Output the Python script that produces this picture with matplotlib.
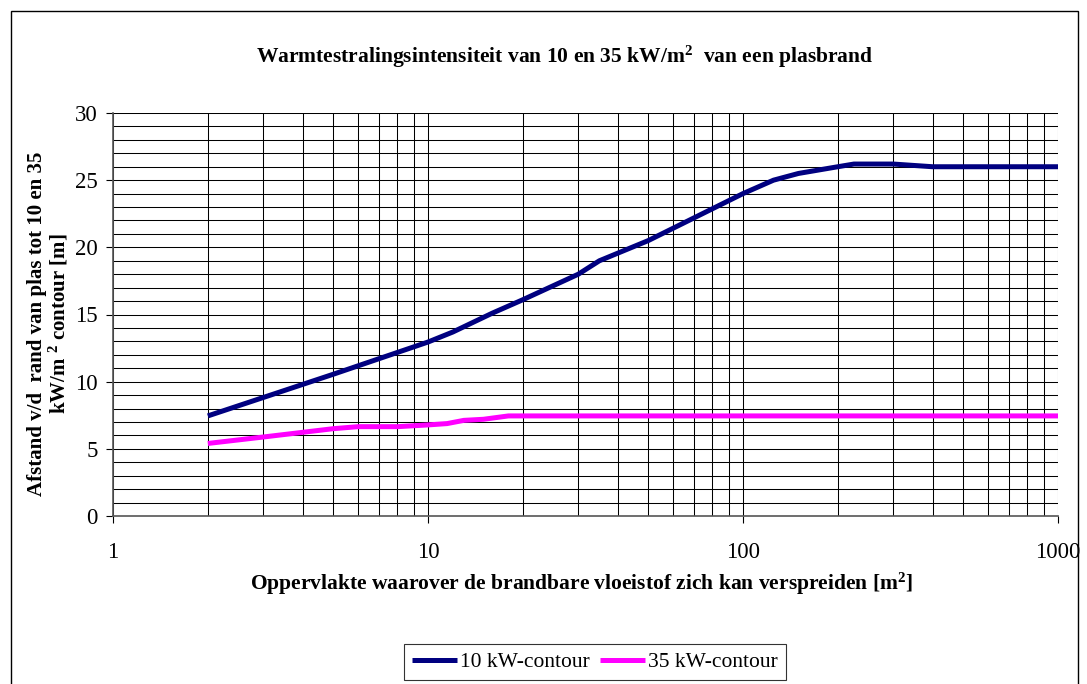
import matplotlib
matplotlib.use("Agg")
import matplotlib.pyplot as plt
from matplotlib.patches import Rectangle
from matplotlib.ticker import LogLocator, FixedLocator, NullFormatter

# area of the pool fire [m2] and distance to the 10 / 35 kW/m2 contour [m]
area_10 = [2, 5, 10, 12, 16, 20, 30, 35, 50, 70, 100, 125, 150, 200, 225, 300, 400, 1000]
dist_10 = [7.45, 10.55, 12.95, 13.7, 15.1, 16.1, 18.0, 19.0, 20.5, 22.2, 24.0, 25.0, 25.5, 26.0,
           26.2, 26.2, 26.0, 26.0]
area_35 = [2, 3, 5, 6, 8, 10, 11.5, 13, 15, 18, 1000]
dist_35 = [5.4, 5.88, 6.5, 6.65, 6.65, 6.78, 6.88, 7.12, 7.2, 7.45, 7.45]
labels = ["10 kW-contour", "35 kW-contour"]
xticks = [1, 10, 100, 1000]
yticks = [0, 5, 10, 15, 20, 25, 30]

plt.rcParams["font.family"] = ["Liberation Serif", "DejaVu Serif"]
plt.rcParams["mathtext.fontset"] = "custom"
plt.rcParams["mathtext.bf"] = "Liberation Serif:bold"
plt.rcParams["mathtext.rm"] = "Liberation Serif"
plt.rcParams["mathtext.it"] = "Liberation Serif:italic"

fig = plt.figure(figsize=(10.87, 6.84), dpi=100)
fig.patches.append(Rectangle((11 / 1087, -0.05), (1078 - 11) / 1087, 1.05 - 11 / 684,
                             transform=fig.transFigure, fill=False, edgecolor="black",
                             linewidth=1.0))

ax = fig.add_axes([113 / 1087, 1 - 516 / 684, (1058 - 113) / 1087, (516 - 113) / 684])
ax.set_xscale("log")
ax.set_xlim(1, 1000)
ax.set_ylim(0, 30)

# grid: every unit on y, every log minor step on x
for yv in range(1, 31):
    ax.axhline(yv, color="black", lw=0.75, zorder=1)
ax.xaxis.set_minor_locator(LogLocator(base=10, subs=range(2, 10)))
ax.xaxis.set_minor_formatter(NullFormatter())
ax.grid(True, axis="x", which="both", color="black", lw=0.75, zorder=1)

ax.plot(area_10, dist_10, color="#000080", lw=3.6, label=labels[0], zorder=3,
        solid_capstyle="butt")
ax.plot(area_35, dist_35, color="#FF00FF", lw=3.6, label=labels[1], zorder=3,
        solid_capstyle="butt")

ax.xaxis.set_major_locator(FixedLocator(xticks))
ax.set_xticklabels([str(v) for v in xticks])
ax.set_yticks(yticks)
ax.tick_params(axis="both", which="major", direction="out", length=5, width=0.8,
               labelsize=16.5, pad=6)
ax.tick_params(axis="x", which="major", pad=14)
ax.tick_params(axis="x", which="minor", length=0)
for s in ["top", "right"]:
    ax.spines[s].set_visible(False)
for s in ["left", "bottom"]:
    ax.spines[s].set_color("#555555")
    ax.spines[s].set_linewidth(1.2)

fig.text(565 / 1087, 1 - 57 / 684,
         "Warmtestralingsintensiteit van 10 en 35 kW/m$^\\mathbf{2}$  van een plasbrand",
         ha="center", va="center", fontsize=15.5, fontweight="bold")
fig.text(582 / 1087, 1 - 584 / 684,
         "Oppervlakte waarover de brandbare vloeistof zich kan verspreiden [m$^\\mathbf{2}$]",
         ha="center", va="center", fontsize=15.5, fontweight="bold")
fig.text(49 / 1087, 1 - 324 / 684,
         "Afstand v/d  rand van plas tot 10 en 35\nkW/m $^\\mathbf{2}$ contour [m]",
         ha="center", va="center", rotation=90, fontsize=15, fontweight="bold",
         linespacing=1.0)

leg = fig.legend(loc="center", bbox_to_anchor=(595 / 1087, 1 - 662 / 684), ncol=2,
                 fontsize=15.5, frameon=True, fancybox=False, handlelength=2.1,
                 handletextpad=0.15, columnspacing=0.45, borderpad=0.35,
                 borderaxespad=0)
leg.get_frame().set_edgecolor("black")
leg.get_frame().set_linewidth(0.8)

fig.savefig("out.png", dpi=100)
